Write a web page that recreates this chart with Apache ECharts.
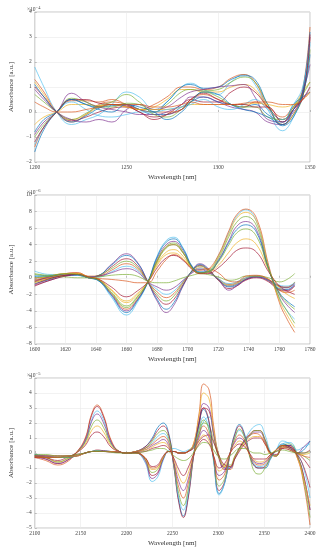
<!DOCTYPE html>
<html><head><meta charset="utf-8">
<script src="https://cdn.jsdelivr.net/npm/echarts@6/dist/echarts.min.js"></script>
<style>html,body{margin:0;padding:0;background:#fff}#c{width:323px;height:550px}</style>
</head><body><div id="c"></div>
<script>
// ---------- Panel 1: 1200-1350 nm (x10^-4) ----------
const X1 = [1200,1205,1212,1220,1228,1235,1242,1250,1257,1265,1272,1280,1285,1292,1300,1307,1314,1320,1327,1335,1341,1346,1350];
const P1_c1  = [1.8,1.0,0.0,-0.5,-0.3,-0.1,0.3,0.8,0.6,0.1,0.4,1.0,1.15,0.9,0.7,1.2,1.5,1.1,0.1,-0.75,-0.2,0.9,2.7];
const P1_c2  = [1.3,0.8,0.0,-0.4,-0.1,0.3,0.4,0.3,0.1,0.3,0.6,1.0,1.0,0.9,1.0,1.35,1.5,1.2,0.2,-0.5,-0.1,0.9,3.4];
const P1_c3  = [1.2,0.7,0.0,-0.3,-0.1,0.2,0.3,0.2,0.1,0.2,0.5,0.9,0.9,0.8,0.8,1.0,1.1,0.9,0.2,-0.3,0.2,0.8,1.2];
const P1_c4  = [1.0,0.6,0.0,-0.35,-0.2,0.0,0.15,0.2,0.0,-0.3,-0.1,0.3,0.5,0.4,0.4,0.8,1.0,0.8,0.2,-0.3,0.1,0.7,3.0];
const P1_c5  = [0.7,0.4,0.0,-0.3,-0.05,0.25,0.4,0.7,0.4,0.0,0.3,0.8,0.9,0.85,0.9,1.2,1.4,1.2,0.3,-0.5,-0.1,0.6,2.5];
const P1_c6  = [1.1,0.6,0.0,-0.4,-0.15,0.15,0.3,0.3,0.1,0.0,0.4,1.0,1.1,0.95,1.0,1.3,1.45,1.3,0.3,-0.55,-0.2,0.8,3.2];
const P1_c7  = [0.9,0.5,0.0,-0.3,-0.4,-0.3,-0.4,0.1,0.3,0.1,0.2,0.6,0.8,0.9,1.0,1.05,1.1,0.6,-0.3,-0.4,0.1,0.8,1.9];
const P1_c8  = [-1.6,-0.7,0.0,0.5,0.3,0.2,0.25,0.3,0.1,-0.1,-0.1,0.2,0.4,0.6,0.4,0.3,0.2,0.3,-0.1,-0.4,0.3,0.6,0.8];
const P1_c9  = [-1.4,-0.6,0.0,0.45,0.45,0.4,0.5,0.3,0.1,0.0,0.0,0.1,0.5,0.7,0.5,0.3,0.2,0.4,0.2,-0.2,0.2,0.5,1.0];
const P1_c10 = [-0.5,-0.2,0.0,0.3,0.3,0.25,0.3,0.2,0.1,0.1,0.1,0.2,0.3,0.3,0.3,0.3,0.3,0.35,0.3,0.2,0.3,0.5,0.8];
const P1_c11 = [-0.9,-0.4,0.0,0.75,0.4,0.2,0.1,0.0,-0.1,-0.1,0.0,0.3,0.6,0.6,0.4,0.2,0.1,0.0,-0.4,-0.5,0.0,0.5,1.0];
const P1_c12 = [-1.0,-0.5,0.0,0.55,0.4,0.2,0.2,0.35,0.3,-0.1,-0.2,0.1,0.4,0.8,0.6,0.3,0.2,0.2,-0.2,-0.3,0.2,0.7,1.2];
const P1_c13 = [-1.3,-0.6,0.0,0.4,0.1,-0.15,-0.2,-0.1,0.0,0.0,0.1,0.2,0.3,0.5,0.2,0.1,0.3,0.5,0.1,-0.3,0.3,1.0,2.8];
const P1_c14 = [-1.2,-0.6,0.0,0.5,0.5,0.35,0.3,0.25,0.0,-0.2,-0.1,0.1,0.5,0.75,0.5,0.3,0.3,0.2,0.2,-0.4,0.1,0.6,3.1];
const P1_c15 = [-0.8,-0.3,0.0,0.5,0.3,0.1,0.0,0.3,0.2,0.0,-0.3,0.0,0.4,0.8,0.7,0.3,0.1,0.0,-0.2,-0.5,0.1,0.7,2.3];
const P1_c16 = [0.4,0.2,0.0,0.0,0.1,0.2,0.3,0.3,0.3,0.2,0.2,0.3,0.4,0.3,0.3,0.3,0.35,0.4,0.4,0.3,0.3,0.5,0.8];

// ---------- Panel 2: 1600-1770 nm (x10^-6) ----------
const X2 = [1600,1610,1620,1628,1635,1642,1650,1660,1667,1674,1680,1686,1691,1697,1703,1708,1713,1720,1727,1732,1738,1745,1753,1760,1765,1770];
const P2_a1 = [-0.9,-0.3,0.2,0.3,0.1,0.3,1.6,2.9,1.9,-0.5,-2.8,-4.2,-3.3,-1.0,0.9,1.7,1.2,-0.2,-1.0,-0.8,-0.2,0.1,-0.4,-1.4,-1.5,-0.9];
const P2_a2 = [-0.7,-0.2,0.3,0.3,0.1,0.3,1.5,2.7,1.8,-0.5,-2.6,-3.8,-3.0,-0.9,0.9,1.6,1.1,-0.2,-1.1,-0.9,-0.2,0.1,-0.3,-1.3,-1.4,-0.8];
const P2_a3 = [-1.0,-0.3,0.2,0.4,0.1,0.2,1.3,2.3,1.5,-0.5,-2.3,-3.2,-2.6,-0.8,0.8,1.5,1.0,-0.3,-1.3,-1.0,-0.3,0.0,-0.5,-1.5,-1.6,-1.0];
const P2_a4 = [-0.5,-0.1,0.4,0.4,0.1,0.3,1.1,2.0,1.3,-0.5,-2.0,-2.8,-2.2,-0.6,0.8,1.4,1.0,-0.2,-0.9,-0.7,-0.1,0.2,-0.3,-1.1,-1.2,-0.5];
const P2_a5 = [-0.3,0.0,0.5,0.6,0.2,0.2,0.9,1.7,1.1,-0.5,-1.7,-2.4,-1.9,-0.5,0.7,1.2,0.9,-0.1,-0.8,-0.6,0.0,0.2,-0.2,-1.0,-1.1,-0.6];
const P2_a6 = [0.2,0.2,0.4,0.5,0.1,0.1,0.7,1.4,0.9,-0.5,-1.4,-2.0,-1.6,-0.4,0.7,1.1,0.8,-0.1,-0.7,-0.5,0.0,0.2,-0.3,-0.9,-1.0,-0.6];
const P2_a7 = [-0.2,0.0,0.3,0.4,0.1,0.2,0.6,1.1,0.7,-0.5,-1.1,-1.5,-1.2,-0.3,0.6,1.0,0.7,-0.2,-1.5,-1.0,-0.2,0.1,-0.3,-1.0,-1.2,-0.7];
const P2_f1 = [0.4,0.2,0.1,0.0,0.0,0.1,0.3,0.4,0.2,-0.4,-0.6,-0.6,-0.4,0.0,0.3,0.5,0.4,0.1,-0.3,-0.2,0.2,0.2,0.0,-0.5,-0.2,0.5];
const P2_f2 = [0.0,0.1,0.4,0.5,0.0,-0.1,-0.2,-0.4,-0.6,-0.6,0.8,2.2,2.8,2.2,1.2,0.9,1.1,0.6,-0.4,-0.5,0.2,0.3,-0.2,-1.5,-1.8,-1.5];
const P2_b1 = [0.8,0.4,0.4,0.3,0.0,-0.4,-2.3,-4.5,-3.0,-0.5,2.6,4.5,4.9,3.6,1.4,0.7,0.8,2.6,5.5,7.4,8.2,6.8,1.3,-2.5,-4.0,-5.0];
const P2_b2 = [-0.5,0.2,0.5,0.6,0.1,-0.3,-1.9,-3.8,-2.6,-0.5,2.0,3.7,4.0,3.0,1.2,0.6,0.9,2.7,5.7,7.6,8.3,7.2,1.5,-3.0,-5.0,-6.6];
const P2_b3 = [-0.3,0.2,0.5,0.5,0.1,-0.2,-1.5,-3.0,-2.1,-0.5,1.7,3.1,3.4,2.6,1.1,0.6,0.8,2.5,5.3,7.2,7.9,6.8,1.2,-2.7,-4.5,-6.0];
const P2_b4 = [0.5,0.3,0.4,0.4,0.1,-0.3,-1.7,-3.4,-2.3,-0.5,1.9,3.6,4.0,3.0,1.2,0.6,0.7,2.3,5.0,6.7,7.4,6.3,1.1,-2.4,-4.0,-5.5];
const P2_b5 = [-0.4,0.1,0.4,0.4,0.0,-0.3,-2.0,-4.0,-2.7,-0.5,2.3,4.0,4.4,3.3,1.3,0.6,0.6,2.1,4.5,6.2,6.8,5.8,1.0,-2.0,-3.3,-4.2];
const P2_b6 = [0.2,0.2,0.4,0.4,0.0,-0.4,-2.1,-4.2,-2.8,-0.5,2.5,4.3,4.7,3.5,1.3,0.7,0.7,2.0,4.3,5.8,6.4,5.5,1.0,-1.8,-2.8,-3.5];
const P2_b7 = [-0.6,0.0,0.4,0.5,0.1,-0.2,-1.4,-2.8,-1.9,-0.5,1.5,2.8,3.0,2.3,1.0,0.5,0.6,1.5,3.1,4.2,4.7,4.0,0.9,-1.2,-2.0,-2.5];
const P2_b8 = [-0.8,-0.1,0.3,0.4,0.1,-0.2,-1.1,-2.3,-1.6,-0.5,1.2,2.4,2.7,2.1,1.0,0.5,0.5,1.2,2.4,3.3,3.6,3.1,0.7,-1.0,-1.6,-2.0];
const P2_b9 = [0.0,0.2,0.5,0.4,0.0,-0.3,-1.8,-3.6,-2.4,-0.5,2.1,3.8,4.2,3.1,1.2,0.6,0.7,1.9,4.0,5.4,5.9,5.0,1.0,-1.9,-3.0,-3.8];

// ---------- Panel 3: 2100-2400 nm (x10^-5) ----------
const X3 = [2100,2112,2125,2135,2145,2155,2162,2168,2175,2183,2192,2200,2210,2220,2228,2234,2240,2246,2252,2257,2262,2267,2273,2279,2284,2290,2295,2301,2307,2313,2318,2323,2329,2335,2340,2345,2351,2357,2363,2370,2378,2386,2393,2400];
const P3_a1 = [-0.3,-0.5,-0.8,-0.6,0.0,1.0,2.6,3.2,2.5,0.9,0.1,0.0,0.05,-0.3,-1.0,-0.9,-0.3,0.1,0.1,0.0,0.0,0.1,0.6,2.6,4.6,4.2,1.8,-0.3,-1.0,-1.1,-0.4,0.3,0.9,1.2,1.3,1.2,0.7,-0.1,-0.2,0.5,0.5,-0.3,-2.0,-4.8];
const P3_a2 = [-0.2,-0.4,-0.7,-0.5,0.0,0.9,2.5,3.1,2.4,0.8,0.1,0.0,0.05,-0.4,-1.5,-1.3,-0.4,0.1,0.1,0.0,0.0,0.1,0.4,1.8,3.0,2.8,1.2,-0.4,-1.1,-1.0,-0.3,0.3,0.9,1.3,1.5,1.5,0.9,0.0,-0.2,0.4,0.5,-0.2,-1.5,-3.8];
const P3_a3 = [-0.1,-0.3,-0.6,-0.4,0.0,0.8,2.2,2.8,2.2,0.7,0.1,0.0,0.0,-0.6,-1.9,-1.6,-0.5,0.2,0.3,0.2,0.1,0.2,0.4,1.2,2.1,2.4,1.3,-0.2,-1.0,-1.0,-0.4,0.2,0.9,1.5,1.8,1.9,1.2,0.1,-0.2,0.6,0.7,0.0,-1.0,-3.0];
const P3_a4 = [-0.3,-0.4,-0.7,-0.5,0.0,0.8,2.1,2.6,2.0,0.7,0.1,0.0,0.0,-0.5,-1.7,-1.4,-0.4,0.1,0.1,0.0,0.0,0.1,0.5,2.0,3.3,3.0,1.3,-0.3,-1.0,-1.0,-0.3,0.3,0.8,1.2,1.4,1.4,0.8,0.0,-0.2,0.5,0.5,-0.2,-1.5,-3.8];
const P3_a5 = [-0.2,-0.3,-0.6,-0.4,0.0,0.7,1.8,2.2,1.7,0.6,0.1,0.0,0.0,-0.4,-1.3,-1.1,-0.3,0.1,0.1,0.0,0.0,0.1,0.4,1.3,2.0,1.8,0.8,-0.3,-0.8,-0.8,-0.2,0.3,0.8,1.2,1.5,1.5,0.9,0.0,-0.2,0.5,0.6,-0.1,-1.8,-4.3];
const P3_a6 = [-0.2,-0.3,-0.6,-0.4,0.0,0.6,1.5,1.8,1.4,0.5,0.1,0.0,0.0,-0.3,-1.1,-1.0,-0.3,0.1,0.1,0.0,0.0,0.1,0.6,2.4,4.0,3.6,1.5,-0.2,-0.9,-0.9,-0.3,0.2,0.7,1.0,1.1,1.1,0.6,-0.1,-0.2,0.4,0.4,-0.3,-1.7,-3.5];
const P3_a7 = [-0.2,-0.3,-0.5,-0.3,0.0,0.5,1.2,1.4,1.1,0.4,0.1,0.0,0.0,-0.3,-0.9,-0.8,-0.2,0.1,0.1,0.0,0.0,0.1,0.3,0.8,1.1,1.2,0.7,-0.2,-0.8,-0.9,-0.4,0.1,0.6,0.9,1.0,1.0,0.6,0.0,-0.1,0.3,0.4,-0.1,-0.9,-2.3];
const P3_b1 = [-0.1,-0.2,-0.3,-0.3,-0.2,0.0,0.1,0.15,0.15,0.1,0.05,0.0,0.1,0.4,1.0,1.7,2.0,1.3,-1.0,-3.2,-4.2,-3.0,-0.2,2.0,2.9,2.0,-0.5,-2.7,-2.0,0.0,1.3,1.9,1.2,-0.3,-0.9,-1.0,-1.0,-0.4,0.2,0.6,0.4,0.0,0.2,0.8];
const P3_b2 = [-0.3,-0.3,-0.3,-0.3,-0.2,0.0,0.1,0.2,0.15,0.1,0.05,0.0,0.1,0.4,0.9,1.5,1.8,1.2,-1.1,-3.3,-4.3,-3.1,-0.3,2.0,3.0,2.1,-0.4,-2.5,-1.9,0.0,1.2,1.8,1.1,-0.3,-0.9,-1.0,-0.9,-0.3,0.2,0.5,0.4,0.0,-0.4,-1.0];
const P3_b3 = [-0.2,-0.2,-0.3,-0.3,-0.2,0.0,0.1,0.15,0.1,0.1,0.05,0.0,0.1,0.3,0.7,1.1,1.3,0.8,-1.0,-3.0,-3.8,-2.7,-0.2,1.6,2.4,1.6,-0.6,-2.8,-2.0,0.0,1.0,1.5,1.0,-0.2,-0.8,-0.9,-0.8,-0.3,0.2,0.8,0.6,0.2,0.4,0.6];
const P3_b4 = [-0.2,-0.3,-0.3,-0.3,-0.2,0.0,0.1,0.15,0.1,0.1,0.05,0.0,0.1,0.3,0.8,1.3,1.5,1.0,-0.9,-2.7,-3.5,-2.5,-0.2,1.5,2.2,1.5,-0.4,-2.2,-1.7,0.0,1.0,1.6,1.0,-0.4,-1.3,-1.4,-1.0,-0.3,0.2,0.5,0.3,0.0,-0.2,-0.5];
const P3_b5 = [-0.3,-0.3,-0.3,-0.2,-0.2,0.0,0.1,0.1,0.1,0.1,0.05,0.0,0.1,0.3,0.6,0.9,1.1,0.7,-0.8,-2.3,-3.0,-2.1,-0.2,1.2,1.8,1.2,-0.3,-1.8,-1.4,0.0,0.8,1.2,0.8,-0.2,-0.7,-0.8,-0.7,-0.2,0.2,0.5,0.3,0.0,-0.2,-0.3];
const P3_b6 = [-0.2,-0.2,-0.2,-0.2,-0.2,0.0,0.1,0.1,0.1,0.1,0.05,0.0,0.1,0.2,0.5,0.7,0.9,0.5,-0.7,-1.9,-2.5,-1.8,-0.2,1.0,1.5,1.0,-0.3,-1.5,-1.2,0.0,0.7,1.0,0.7,-0.2,-0.6,-0.7,-0.6,-0.2,0.2,0.4,0.3,0.0,0.4,0.8];
const P3_b7 = [-0.2,-0.2,-0.2,-0.2,-0.2,0.0,0.1,0.1,0.1,0.1,0.05,0.0,0.1,0.2,0.4,0.6,0.7,0.4,-0.5,-1.5,-2.0,-1.4,-0.1,0.8,1.2,0.8,-0.2,-1.2,-0.9,0.0,0.5,0.8,0.5,-0.2,-0.5,-0.6,-0.5,-0.1,0.2,0.4,0.2,0.0,-0.1,0.0];
const P3_b8 = [-0.2,-0.2,-0.2,-0.2,-0.1,0.0,0.1,0.1,0.1,0.05,0.05,0.0,0.05,0.1,0.3,0.4,0.5,0.3,-0.4,-1.1,-1.5,-1.0,-0.1,0.6,0.9,0.6,-0.2,-1.0,-0.7,0.0,0.4,0.6,0.4,-0.1,-0.4,-0.4,-0.4,-0.1,0.1,0.3,0.2,0.0,0.0,0.2];
const P3_f1 = [-0.1,-0.1,-0.2,-0.2,-0.1,0.0,0.1,0.1,0.1,0.05,0.0,0.0,0.0,0.1,0.2,0.3,0.3,0.1,-0.2,-0.4,-0.5,-0.4,0.0,0.5,0.7,0.6,0.2,-0.3,-0.4,-0.2,0.1,0.3,0.3,0.1,0.0,0.0,-0.1,0.0,0.1,0.2,0.1,0.0,0.0,0.1];

// axis ticks
const XT1 = {min:1200,max:1350,interval:50};
const YT1 = {min:-2,max:4,interval:1};
const XT2 = {min:1600,max:1780,interval:20};
const YT2 = {min:-8,max:10,interval:2};
const XT3 = {min:2100,max:2400,interval:50};
const YT3 = {min:-5,max:5,interval:1};
const EXP = ['-4','-6','-5'];
const XNAME = 'Wavelength [nm]';
const YNAME = 'Absorbance [a.u.]';

// ---------- styling / build ----------
const PAL = ['#0072BD','#D95319','#EDB120','#7E2F8E','#77AC30','#4DBEEE','#A2142F'];
const panels = [
  {x:X1, curves:[[P1_c1,5],[P1_c2,1],[P1_c3,2],[P1_c4,6],[P1_c5,4],[P1_c6,0],[P1_c7,3],[P1_c8,0],[P1_c9,1],[P1_c10,2],[P1_c11,3],[P1_c12,4],[P1_c13,5],[P1_c14,6],[P1_c15,0],[P1_c16,1]]},
  {x:X2, curves:[[P2_a1,3],[P2_a2,0],[P2_a3,6],[P2_a4,4],[P2_a5,1],[P2_a6,5],[P2_a7,3],[P2_f1,4],[P2_f2,1],[P2_b1,5],[P2_b2,1],[P2_b3,2],[P2_b4,4],[P2_b5,3],[P2_b6,0],[P2_b7,2],[P2_b8,6],[P2_b9,4]]},
  {x:X3, curves:[[P3_a1,1],[P3_a2,6],[P3_a3,5],[P3_a4,3],[P3_a5,4],[P3_a6,2],[P3_a7,6],[P3_b1,0],[P3_b2,6],[P3_b3,5],[P3_b4,4],[P3_b5,1],[P3_b6,3],[P3_b7,2],[P3_b8,6],[P3_f1,4]]}
];
const tops = [12, 195, 378];
const heights = [150, 149, 150];
const XT = [XT1,XT2,XT3], YT = [YT1,YT2,YT3];
const FONT = "'Liberation Serif','DejaVu Serif',serif";
const minus = v => String(v).replace('-', '\u2212');

const grids = [], xAxes = [], yAxes = [], series = [], graphics = [];
panels.forEach((p, k) => {
  grids.push({left:25, right:13, top:tops[k], height:heights[k], show:true, borderColor:'#b0b0b0', borderWidth:0.7});
  xAxes.push({type:'value', gridIndex:k, min:XT[k].min, max:XT[k].max, interval:XT[k].interval,
    name:XNAME, nameLocation:'middle', nameGap:12,
    nameTextStyle:{fontFamily:FONT, fontSize:7, color:'#333'},
    axisLine:{show:false}, axisTick:{inside:true, length:2, lineStyle:{color:'#999', width:0.6}},
    axisLabel:{fontFamily:FONT, fontSize:5.5, color:'#444', margin:3, formatter:minus},
    splitLine:{show:true, lineStyle:{color:'#e9e9e9', width:0.6}}});
  yAxes.push({type:'value', gridIndex:k, min:YT[k].min, max:YT[k].max, interval:YT[k].interval,
    name:YNAME, nameLocation:'middle', nameGap:10, nameRotate:90,
    nameTextStyle:{fontFamily:FONT, fontSize:7, color:'#333'},
    axisLine:{show:false}, axisTick:{inside:true, length:2, lineStyle:{color:'#999', width:0.6}},
    axisLabel:{fontFamily:FONT, fontSize:5.5, color:'#444', margin:3, formatter:minus},
    splitLine:{show:true, lineStyle:{color:'#e9e9e9', width:0.6}}});
  p.curves.forEach(([ys, ci]) => {
    series.push({type:'line', xAxisIndex:k, yAxisIndex:k, smooth:0.45, symbol:'none',
      lineStyle:{width:0.8, color:PAL[ci], opacity:0.85}, silent:true,
      data: p.x.map((x, i) => [x, ys[i]])});
  });
  graphics.push({type:'text', left:27, top:tops[k]-7,
    style:{text:'{a|\u00d710}{b|' + minus(EXP[k]) + '}', rich:{
      a:{fontFamily:FONT, fontSize:5.5, fill:'#444'},
      b:{fontFamily:FONT, fontSize:4.5, fill:'#444', verticalAlign:'top', padding:[0,0,4,0]}}}});
});

const chart = echarts.init(document.getElementById('c'), null, {renderer:'canvas'});
chart.setOption({animation:false, backgroundColor:'#fff', grid:grids, xAxis:xAxes, yAxis:yAxes, series, graphic:graphics});
</script></body></html>
